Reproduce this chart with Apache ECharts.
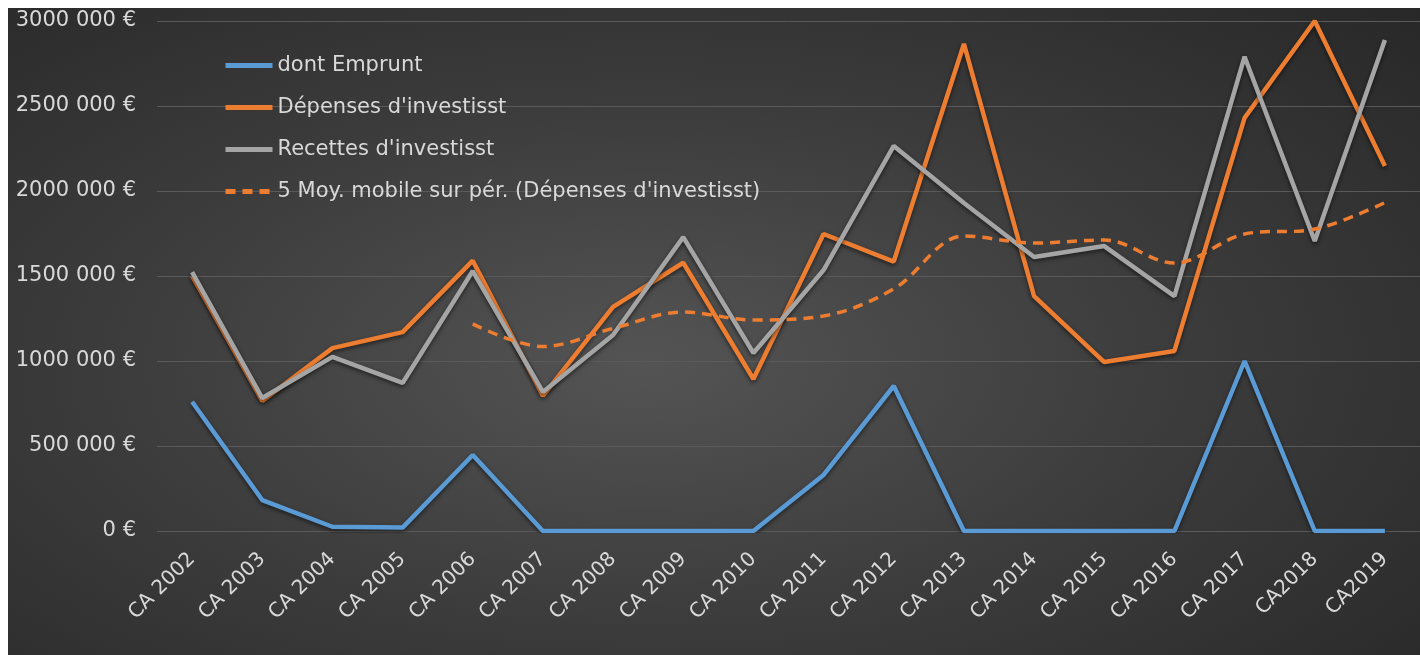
<!DOCTYPE html>
<html>
<head>
<meta charset="utf-8">
<script src="https://cdn.jsdelivr.net/npm/echarts@6/dist/echarts.min.js"></script>
<style>
  html, body { margin: 0; padding: 0; background: #ffffff; width: 1420px; height: 655px; overflow: hidden; }
  #chart {
    position: absolute; left: 8px; top: 8px; width: 1412px; height: 647px;
    background: radial-gradient(ellipse 75% 80% at 45% 55%, #545454 0%, #3c3c3c 50%, #282828 100%);
  }
</style>
</head>
<body>
<div id="chart"></div>
<script>
const categories = ['CA 2002','CA 2003','CA 2004','CA 2005','CA 2006','CA 2007','CA 2008','CA 2009','CA 2010','CA 2011','CA 2012','CA 2013','CA 2014','CA 2015','CA 2016','CA 2017','CA2018','CA2019'];
const emprunt   = [760000,182000,25000,20000,447000,0,0,0,0,330000,853000,0,0,0,0,1000000,0,0];
const depenses  = [1500000,765000,1076000,1170000,1590000,795000,1318000,1578000,894000,1747000,1585000,2865000,1382000,994000,1059000,2430000,3000000,2147000];
const recettes  = [1523000,782000,1024000,871000,1529000,818000,1153000,1729000,1047000,1535000,2265000,1929000,1612000,1676000,1382000,2790000,1706000,2888000];
const movingAvg = [null,null,null,null,1218000,1085000,1192000,1288000,1241000,1265000,1424000,1735000,1694000,1712000,1576000,1747000,1776000,1932000];
const yTickLabels = ['0 €','500 000 €','1000 000 €','1500 000 €','2000 000 €','2500 000 €','3000 000 €'];
const seriesNames = ['dont Emprunt',"Dépenses d'investisst","Recettes d'investisst","5 Moy. mobile sur pér. (Dépenses d'investisst)"];

const FONT = 'DejaVu Sans';
const TXT = '#d9d9d9';
const shadow = { shadowColor: 'rgba(0,0,0,0.55)', shadowBlur: 4, shadowOffsetY: 2 };

const chart = echarts.init(document.getElementById('chart'), null, { renderer: 'canvas' });
chart.setOption({
  backgroundColor: 'transparent',
  animation: false,
  grid: { left: 149, top: 13, width: 1272, height: 510, containLabel: false },
  legend: {
    orient: 'vertical', left: 210, top: 42,
    itemWidth: 47, itemHeight: 14, itemGap: 21,
    itemStyle: { opacity: 0 },
    lineStyle: { width: 5, shadowBlur: 0, shadowOffsetY: 0, shadowColor: 'transparent' },
    textStyle: { color: TXT, fontFamily: FONT, fontSize: 21 },
    data: seriesNames
  },
  xAxis: {
    type: 'category', data: categories, boundaryGap: true,
    axisLine: { show: false }, axisTick: { show: false },
    axisLabel: { color: TXT, fontFamily: FONT, fontSize: 20, rotate: 45, margin: 25, interval: 0 }
  },
  yAxis: {
    type: 'value', min: 0, max: 3000000, interval: 500000,
    axisLine: { show: false }, axisTick: { show: false },
    splitLine: { lineStyle: { color: '#5a5a5a', width: 1 } },
    axisLabel: {
      color: TXT, fontFamily: FONT, fontSize: 21, margin: 21,
      formatter: (v) => yTickLabels[Math.round(v / 500000)]
    }
  },
  series: [
    { name: seriesNames[0], type: 'line', data: emprunt, symbol: 'none',
      lineStyle: Object.assign({ color: '#5b9bd5', width: 4.5 }, shadow), itemStyle: { color: '#5b9bd5' } },
    { name: seriesNames[1], type: 'line', data: depenses, symbol: 'none',
      lineStyle: Object.assign({ color: '#ed7d31', width: 4.5 }, shadow), itemStyle: { color: '#ed7d31' } },
    { name: seriesNames[2], type: 'line', data: recettes, symbol: 'none',
      lineStyle: Object.assign({ color: '#a5a5a5', width: 4.5 }, shadow), itemStyle: { color: '#a5a5a5' } },
    { name: seriesNames[3], type: 'line', data: movingAvg, symbol: 'none', smooth: 0.35,
      lineStyle: { color: '#ed7d31', width: 3.5, type: [10, 7] }, itemStyle: { color: '#ed7d31' } }
  ]
});
</script>
</body>
</html>
